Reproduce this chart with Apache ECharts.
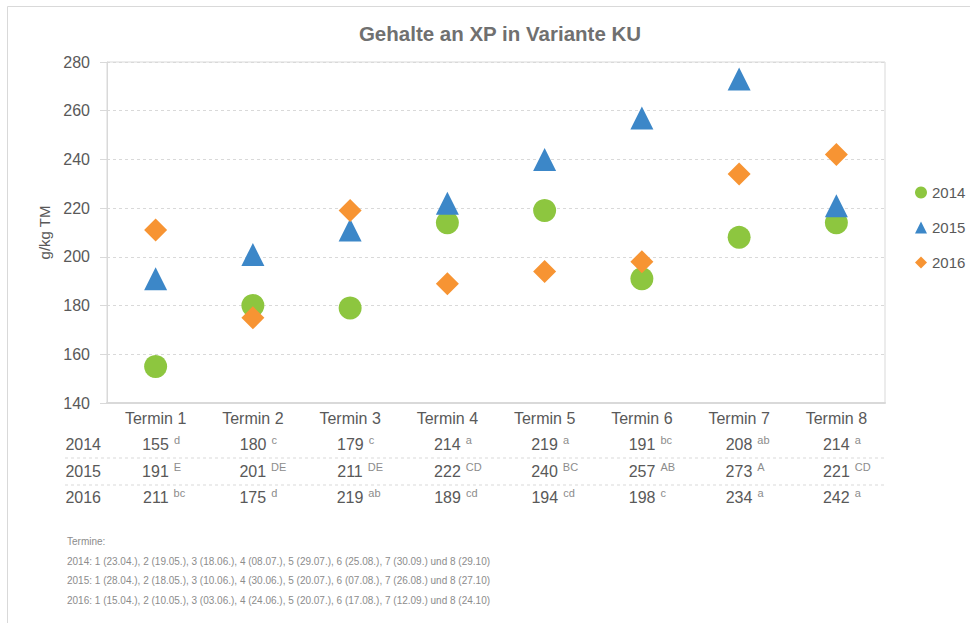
<!DOCTYPE html>
<html>
<head>
<meta charset="utf-8">
<script src="https://cdn.jsdelivr.net/npm/echarts@6/dist/echarts.min.js"></script>
<style>
  html, body { margin: 0; padding: 0; background: #fff; }
  #chart { width: 970px; height: 623px; }
</style>
</head>
<body>
<div id="chart"></div>
<script>
// Gehalte an XP in Variante KU - scatter with data table below

const categories = ['Termin 1', 'Termin 2', 'Termin 3', 'Termin 4', 'Termin 5', 'Termin 6', 'Termin 7', 'Termin 8'];
const years = ['2014', '2015', '2016'];

const values2014 = [155, 180, 179, 214, 219, 191, 208, 214];
const values2015 = [191, 201, 211, 222, 240, 257, 273, 221];
const values2016 = [211, 175, 219, 189, 194, 198, 234, 242];

const letters2014 = ['d', 'c', 'c', 'a', 'a', 'bc', 'ab', 'a'];
const letters2015 = ['E', 'DE', 'DE', 'CD', 'BC', 'AB', 'A', 'CD'];
const letters2016 = ['bc', 'd', 'ab', 'cd', 'cd', 'c', 'a', 'a'];

const footnoteLines = [
    'Termine:',
    '2014: 1 (23.04.), 2 (19.05.), 3 (18.06.), 4 (08.07.), 5 (29.07.), 6 (25.08.), 7 (30.09.) und 8 (29.10)',
    '2015: 1 (28.04.), 2 (18.05.), 3 (10.06.), 4 (30.06.), 5 (20.07.), 6 (07.08.), 7 (26.08.) und 8 (27.10)',
    '2016: 1 (15.04.), 2 (10.05.), 3 (03.06.), 4 (24.06.), 5 (20.07.), 6 (17.08.), 7 (12.09.) und 8 (24.10)'
];

const FONT = '"Liberation Sans", Arial, sans-serif';
const textDark = '#595959';
const textLight = '#8c8c8c';
const gridColor = '#d9d9d9';
const green = '#8DC63F';
const blue = '#3C87C8';
const orange = '#F79433';

// layout of the plot area
const plot = { left: 107, right: 85, top: 62, bottom: 220 };
const plotBottomY = 623 - plot.bottom;
const rowY = [444, 471, 497];   // centres of the table rows
const sepY = [458, 485];
const supSize = 11;
const supGap = 5;

const rowValues = [values2014, values2015, values2016];
const rowLetters = [letters2014, letters2015, letters2016];

// measure superscript width so the number itself stays centred on the category
const measureCtx = document.createElement('canvas').getContext('2d');
measureCtx.font = supSize + 'px ' + FONT;
function supWidth(s) {
    return Math.round(measureCtx.measureText(s).width) + supGap;
}

function tableAxis(i) {
    const vals = rowValues[i];
    const lets = rowLetters[i];
    const rich = {
        v: { color: textDark, fontSize: 16, fontFamily: FONT, lineHeight: 20, verticalAlign: 'middle' },
        s: { color: textLight, fontSize: supSize, fontFamily: FONT, padding: [0, 0, 0, supGap], lineHeight: 12, verticalAlign: 'top' }
    };
    lets.forEach((l, idx) => { rich['p' + idx] = { width: supWidth(l) }; });
    return {
        type: 'category',
        data: categories,
        position: 'bottom',
        offset: rowY[i] - plotBottomY,
        gridIndex: 0,
        name: years[i],
        nameLocation: 'start',
        nameGap: 6,
        nameTextStyle: { color: textDark, fontSize: 16, fontFamily: FONT, align: 'right', verticalAlign: 'middle' },
        axisLine: { show: false },
        axisTick: { show: false },
        splitLine: { show: false },
        axisLabel: {
            margin: 0,
            verticalAlign: 'middle',
            interval: 0,
            formatter: (v, idx) => `{p${idx}|}{v|${vals[idx]}}{s|${lets[idx]}}`,
            rich: rich
        }
    };
}

const chart = echarts.init(document.getElementById('chart'), null, { renderer: 'svg' });

chart.setOption({
    backgroundColor: '#fff',
    animation: false,
    title: [
        {
            text: 'Gehalte an XP in Variante KU',
            left: 495, top: 18, textAlign: 'center',
            textStyle: { color: '#707070', fontSize: 20.5, fontWeight: 'bold', fontFamily: FONT }
        },
        {
            text: footnoteLines.join('\n'),
            left: 62, top: 527,
            textStyle: { color: textLight, fontSize: 10, fontWeight: 'normal', fontFamily: FONT, lineHeight: 19.5 }
        }
    ],
    legend: {
        orient: 'vertical',
        left: 910, top: 180,
        itemWidth: 12, itemHeight: 12, itemGap: 20,
        data: years,
        textStyle: { color: textDark, fontSize: 15, fontFamily: FONT }
    },
    grid: { left: plot.left, right: plot.right, top: plot.top, bottom: plot.bottom, show: true, borderColor: gridColor, borderWidth: 1 },
    xAxis: [
        {
            type: 'category',
            data: categories,
            boundaryGap: true,
            axisLine: { lineStyle: { color: gridColor, width: 2 } },
            axisTick: { show: false },
            axisLabel: { color: textDark, fontSize: 16, fontFamily: FONT, margin: 7, interval: 0 },
            splitLine: { show: false }
        },
        tableAxis(0),
        tableAxis(1),
        tableAxis(2)
    ],
    yAxis: {
        type: 'value',
        min: 140, max: 280, interval: 20,
        name: 'g/kg TM',
        nameLocation: 'middle',
        nameGap: 53,
        nameTextStyle: { color: textDark, fontSize: 15, fontFamily: FONT },
        axisLine: { show: true, lineStyle: { color: gridColor } },
        axisTick: { show: true, length: 7, lineStyle: { color: gridColor } },
        axisLabel: { color: textDark, fontSize: 16, fontFamily: FONT, margin: 17 },
        splitLine: { lineStyle: { color: gridColor, type: [3, 3] } }
    },
    graphic: [
        { type: 'rect', silent: true, shape: { x: 7.5, y: 6.5, width: 1000, height: 1000 }, style: { fill: 'none', stroke: gridColor, lineWidth: 1 } },
        { type: 'line', silent: true, shape: { x1: 65, y1: sepY[0], x2: 970 - plot.right, y2: sepY[0] }, style: { stroke: gridColor, lineWidth: 1, lineDash: [3, 3] } },
        { type: 'line', silent: true, shape: { x1: 65, y1: sepY[1], x2: 970 - plot.right, y2: sepY[1] }, style: { stroke: gridColor, lineWidth: 1, lineDash: [3, 3] } }
    ],
    series: [
        { name: '2014', type: 'scatter', data: values2014, symbol: 'circle', symbolSize: 23, itemStyle: { color: green, opacity: 1 } },
        { name: '2015', type: 'scatter', data: values2015, symbol: 'triangle', symbolSize: 23, itemStyle: { color: blue, opacity: 1 } },
        { name: '2016', type: 'scatter', data: values2016, symbol: 'diamond', symbolSize: 23, itemStyle: { color: orange, opacity: 1 } }
    ]
});

window.addEventListener('resize', () => chart.resize());
</script>
</body>
</html>
